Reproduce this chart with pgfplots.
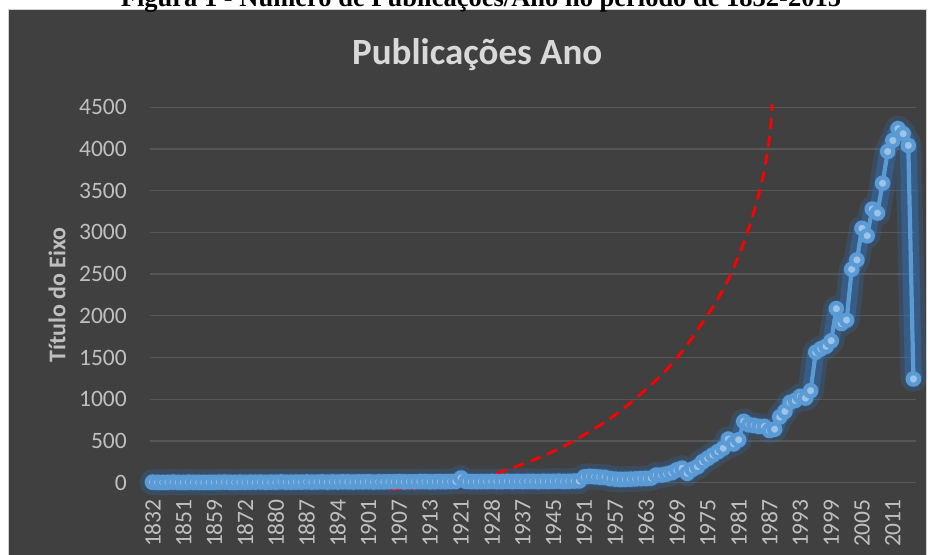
\documentclass[border=0pt]{standalone}
\usepackage{pgfplots}
\pgfplotsset{compat=1.18}
\usepackage{pgfplotstable}
\usepackage{fontspec}
\setmainfont{Carlito}
\newfontfamily\capfont{Liberation Serif}
\definecolor{bg}{HTML}{404040}
\definecolor{gridc}{HTML}{575757}
\definecolor{tickc}{HTML}{BFBFBF}
\definecolor{titlec}{HTML}{D9D9D9}
\definecolor{linec}{HTML}{5B9BD5}
\definecolor{markc}{HTML}{9DC3E6}
\definecolor{glowc}{HTML}{2E7BD0}
\definecolor{borderc}{HTML}{D0D0D0}

\pgfplotstableread{
x y
0 5
1 3
2 2
3 4
4 6
5 3
6 2
7 5
8 4
9 3
10 2
11 4
12 3
13 5
14 6
15 4
16 3
17 5
18 4
19 6
20 5
21 7
22 4
23 6
24 5
25 8
26 6
27 5
28 7
29 6
30 8
31 6
32 7
33 9
34 6
35 8
36 7
37 9
38 8
39 7
40 9
41 8
42 10
43 7
44 9
45 8
46 10
47 9
48 11
49 8
50 10
51 9
52 11
53 12
54 9
55 10
56 12
57 11
58 13
59 15
60 55
61 14
62 12
63 11
64 13
65 12
66 14
67 12
68 13
69 15
70 12
71 14
72 13
73 15
74 14
75 12
76 16
77 14
78 15
79 17
80 14
81 16
82 18
83 20
84 68
85 75
86 70
87 66
88 62
89 48
90 42
91 38
92 40
93 42
94 44
95 48
96 50
97 55
98 91
99 91
100 103
101 119
102 152
103 172
104 112
105 160
106 191
107 251
108 292
109 332
110 372
111 413
112 521
113 465
114 513
115 733
116 693
117 685
118 673
119 673
120 625
121 641
122 786
123 853
124 961
125 985
126 1034
127 1014
128 1102
129 1563
130 1604
131 1635
132 1700
133 2085
134 1908
135 1948
136 2558
137 2670
138 3048
139 2959
140 3280
141 3232
142 3590
143 3970
144 4102
145 4243
146 4183
147 4042
148 1243
}\pubdata

\pgfplotstableread{
x y
46.2 -80
52.7 -58
59.2 -8
63.7 55
68.9 152
74.1 272
79.3 413
84.5 593
89.6 793
94.8 1054
99.4 1315
103.3 1596
106.5 1876
109.1 2117
111.7 2398
114.0 2718
115.9 3040
117.5 3361
118.8 3681
119.7 4002
120.3 4323
120.5 4544
}\trenddata

\begin{document}
\begin{tikzpicture}[x=1pt,y=1pt]
\useasboundingbox (0,0) rectangle (931,554);
\fill[white] (0,0) rectangle (931,554);
\fill[bg] (8.5,-5) rectangle (926,544);
\draw[borderc, line width=1pt] (8.5,-5) -- (8.5,544) -- (926,544) -- (926,-5);
\node[anchor=base, inner sep=0pt, font=\capfont\bfseries\fontsize{26.5}{30}\selectfont] at (481,547) {Figura 1 - Número de Publicações/Ano no período de 1832-2015};
\begin{axis}[
  at={(150pt,71.4pt)}, anchor=south west,
  scale only axis, width=766pt, height=375.3pt,
  xmin=-0.5, xmax=148.5, ymin=0, ymax=4500,
  clip=false,
  axis line style={draw=none},
  major tick length=0pt,
  ymajorgrids,
  grid style={gridc, line width=1.3pt},
  ytick={0,500,...,4500},
  yticklabels={0,500,1000,1500,2000,2500,3000,3500,4000,4500},
  xtick={0,6,...,144},
  xticklabels={1832,1851,1859,1872,1880,1887,1894,1901,1907,1913,1921,1928,1937,1945,1951,1957,1963,1969,1975,1981,1987,1993,1999,2005,2011},
  yticklabel style={font=\fontsize{23.5}{26}\selectfont, color=tickc, inner sep=0pt, anchor=east},
  yticklabel shift=23pt,
  xticklabel style={font=\fontsize{23.5}{26}\selectfont, color=tickc, inner sep=0pt, rotate=90, anchor=east},
  xticklabel shift=16.5pt,
  ylabel={Título do Eixo},
  ylabel style={font=\bfseries\fontsize{24}{26}\selectfont, color=tickc, at={(axis description cs:-0.1214,0.5)}, anchor=center},
  title={Publicações Ano},
  title style={font=\bfseries\fontsize{37}{40}\selectfont, color=titlec, at={(axis description cs:0.4272,1.0986)}, anchor=base},
]
\addplot[glowc, opacity=0.22, line width=26pt, line join=round, line cap=round, no markers] table {\pubdata};
\addplot[glowc, opacity=0.35, line width=17pt, line join=round, line cap=round, no markers] table {\pubdata};
\addplot[linec, line width=4.2pt, line join=round, mark=*, mark size=5.7pt, mark options={fill=markc, draw=none}] table {\pubdata};
\addplot[red, line width=2.8pt, dash pattern=on 11pt off 7pt, smooth, no markers] table {\trenddata};
\end{axis}
\end{tikzpicture}
\end{document}
